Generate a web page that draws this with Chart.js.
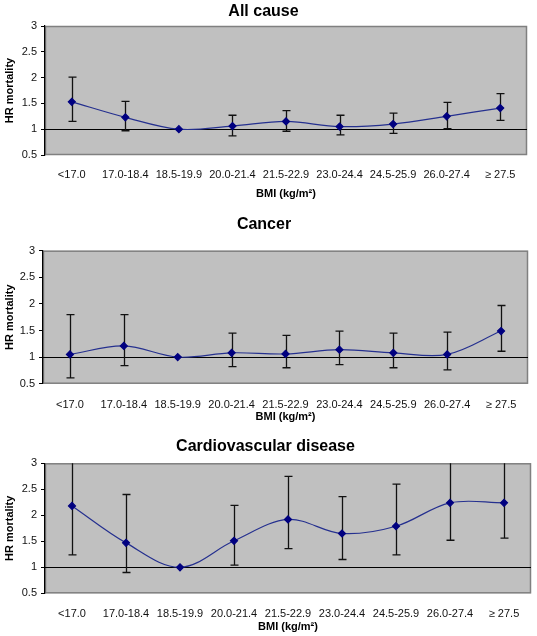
<!DOCTYPE html>
<html><head><meta charset="utf-8">
<script src="https://cdn.jsdelivr.net/npm/chart.js@4.4.1/dist/chart.umd.min.js"></script>
<style>
html,body{margin:0;padding:0;background:#fff;}
#wrap{position:relative;width:537px;height:636px;overflow:hidden;background:#fff;}
.panel{position:absolute;left:0;width:537px;}
canvas{display:block;}
</style></head><body>
<div id="wrap">
<div class="panel" style="top:0;height:205px"><canvas id="c1" width="537" height="205"></canvas></div>
<div class="panel" style="top:205px;height:225px"><canvas id="c2" width="537" height="225"></canvas></div>
<div class="panel" style="top:420px;height:216px"><canvas id="c3" width="537" height="216"></canvas></div>
</div>
<script>
// ---- data ----
const categories = ['<17.0','17.0-18.4','18.5-19.9','20.0-21.4','21.5-22.9','23.0-24.4','24.5-25.9','26.0-27.4','\u2265 27.5'];
const yTicks = [0.5, 1, 1.5, 2, 2.5, 3];
const referenceHR = 1;

const allCauseHR    = [1.53, 1.23, 1.00, 1.06, 1.15, 1.05, 1.10, 1.25, 1.41];
const allCauseLower = [1.15, 0.97, null, 0.87, 0.96, 0.89, 0.92, 1.01, 1.17];
const allCauseUpper = [2.01, 1.54, null, 1.27, 1.36, 1.27, 1.31, 1.52, 1.69];

const cancerHR    = [1.05, 1.21, 1.00, 1.08, 1.06, 1.14, 1.08, 1.05, 1.49];
const cancerLower = [0.61, 0.84, null, 0.82, 0.80, 0.86, 0.80, 0.76, 1.11];
const cancerUpper = [1.80, 1.80, null, 1.45, 1.41, 1.49, 1.45, 1.47, 1.97];

const cvdHR    = [2.18, 1.47, 1.00, 1.51, 1.92, 1.65, 1.79, 2.24, 2.24];
const cvdLower = [1.24, 0.90, null, 1.04, 1.36, 1.15, 1.24, 1.52, 1.56];
const cvdUpper = [3.83, 2.40, null, 2.19, 2.75, 2.36, 2.60, 3.30, 3.22];

const titles = ['All cause', 'Cancer', 'Cardiovascular disease'];
const yTitle = 'HR mortality';
const xTitle = 'BMI (kg/m\u00B2)';

// ---- rendering ----
const FONT = '"Liberation Sans", Arial, sans-serif';

const decorPlugin = {
  id: 'decor',
  beforeDraw(chart) {
    const {ctx, chartArea: a} = chart;
    ctx.save();
    ctx.fillStyle = '#c0c0c0';
    ctx.fillRect(a.left, a.top, a.right - a.left, a.bottom - a.top);
    ctx.strokeStyle = '#808080';
    ctx.lineWidth = 1.5;
    ctx.strokeRect(a.left + 0.5, a.top + 0.5, a.right - a.left - 1, a.bottom - a.top - 1);
    ctx.restore();
  },
  beforeDatasetsDraw(chart, args, opts) {
    const {ctx, chartArea: a, scales} = chart;
    ctx.save();
    ctx.beginPath();
    ctx.rect(a.left, a.top, a.right - a.left, a.bottom - a.top);
    ctx.clip();
    const yr = Math.round(scales.y.getPixelForValue(opts.ref)) + 0.5;
    ctx.strokeStyle = '#000';
    ctx.lineWidth = 1.2;
    ctx.beginPath();
    ctx.moveTo(a.left, yr);
    ctx.lineTo(a.right, yr);
    ctx.stroke();
    ctx.lineWidth = 1.3;
    ctx.strokeStyle = '#111';
    for (let i = 0; i < opts.lower.length; i++) {
      if (opts.lower[i] == null) continue;
      const x = Math.round(scales.x.getPixelForValue(i)) + 0.5;
      const yl = scales.y.getPixelForValue(opts.lower[i]);
      const yu = scales.y.getPixelForValue(opts.upper[i]);
      ctx.beginPath();
      ctx.moveTo(x, yl); ctx.lineTo(x, yu);
      ctx.moveTo(x - 4, yl); ctx.lineTo(x + 4, yl);
      ctx.moveTo(x - 4, yu); ctx.lineTo(x + 4, yu);
      ctx.stroke();
    }
    ctx.restore();
  }
};

function makePanel(id, title, hr, lower, upper, g) {
  const canvas = document.getElementById(id);
  const H = canvas.height;
  new Chart(canvas, {
    type: 'line',
    data: {
      labels: categories,
      datasets: [{
        data: hr,
        borderColor: '#25308f',
        borderWidth: 1.2,
        backgroundColor: '#000080',
        pointBackgroundColor: '#000080',
        pointBorderColor: '#000080',
        pointStyle: 'rectRot',
        pointRadius: 3.5,
        tension: 0.35,
        fill: false
      }]
    },
    options: {
      responsive: false,
      animation: false,
      layout: { padding: { left: 0, right: 537 - g.right, top: 0, bottom: 0 } },
      plugins: {
        legend: { display: false },
        tooltip: { enabled: false },
        title: {
          display: true, text: title, color: '#000',
          font: { family: FONT, size: 16, weight: 'bold', lineHeight: 1.2 },
          padding: { top: g.titleCenter - 9.6, bottom: g.top - (g.titleCenter - 9.6) - 19.2 }
        },
        decor: { ref: referenceHR, lower: lower, upper: upper }
      },
      scales: {
        x: {
          type: 'category',
          offset: true,
          grid: { display: false, drawTicks: false },
          border: { display: false },
          ticks: {
            color: '#111', autoSkip: false, maxRotation: 0, minRotation: 0,
            padding: g.tickCenter - g.bottom - 6.6,
            font: { family: FONT, size: 11 }
          },
          title: {
            display: true, text: xTitle, color: '#000',
            font: { family: FONT, size: 11, weight: 'bold', lineHeight: 1.2 },
            padding: { top: 0, bottom: H - g.xTitleCenter - 6.6 }
          },
          afterFit(scale) { scale.height = H - g.bottom; }
        },
        y: {
          min: yTicks[0], max: yTicks[yTicks.length - 1],
          afterBuildTicks(scale) { scale.ticks = yTicks.map(v => ({ value: v })); },
          grid: { display: true, drawOnChartArea: false, drawTicks: true, tickLength: 4, color: '#000', lineWidth: 1 },
          border: { display: true, color: '#000', width: 1.2 },
          ticks: { color: '#111', padding: 4, font: { family: FONT, size: 11 },
                   callback: v => String(Number(v)) },
          title: {
            display: true, text: yTitle, color: '#000',
            font: { family: FONT, size: 11, weight: 'bold', lineHeight: 1.2 },
            padding: { top: 3, bottom: 0 }
          },
          afterFit(scale) { scale.width = g.left; }
        }
      }
    },
    plugins: [decorPlugin]
  });
}

makePanel('c1', titles[0], allCauseHR, allCauseLower, allCauseUpper,
  { left: 45, right: 527, top: 26, bottom: 155, titleCenter: 12, tickCenter: 175, xTitleCenter: 194 });
makePanel('c2', titles[1], cancerHR, cancerLower, cancerUpper,
  { left: 43, right: 528, top: 45.7, bottom: 178.7, titleCenter: 20, tickCenter: 200, xTitleCenter: 212 });
makePanel('c3', titles[2], cvdHR, cvdLower, cvdUpper,
  { left: 45, right: 531, top: 43.3, bottom: 173.3, titleCenter: 27, tickCenter: 194, xTitleCenter: 207 });
</script>
</body></html>
